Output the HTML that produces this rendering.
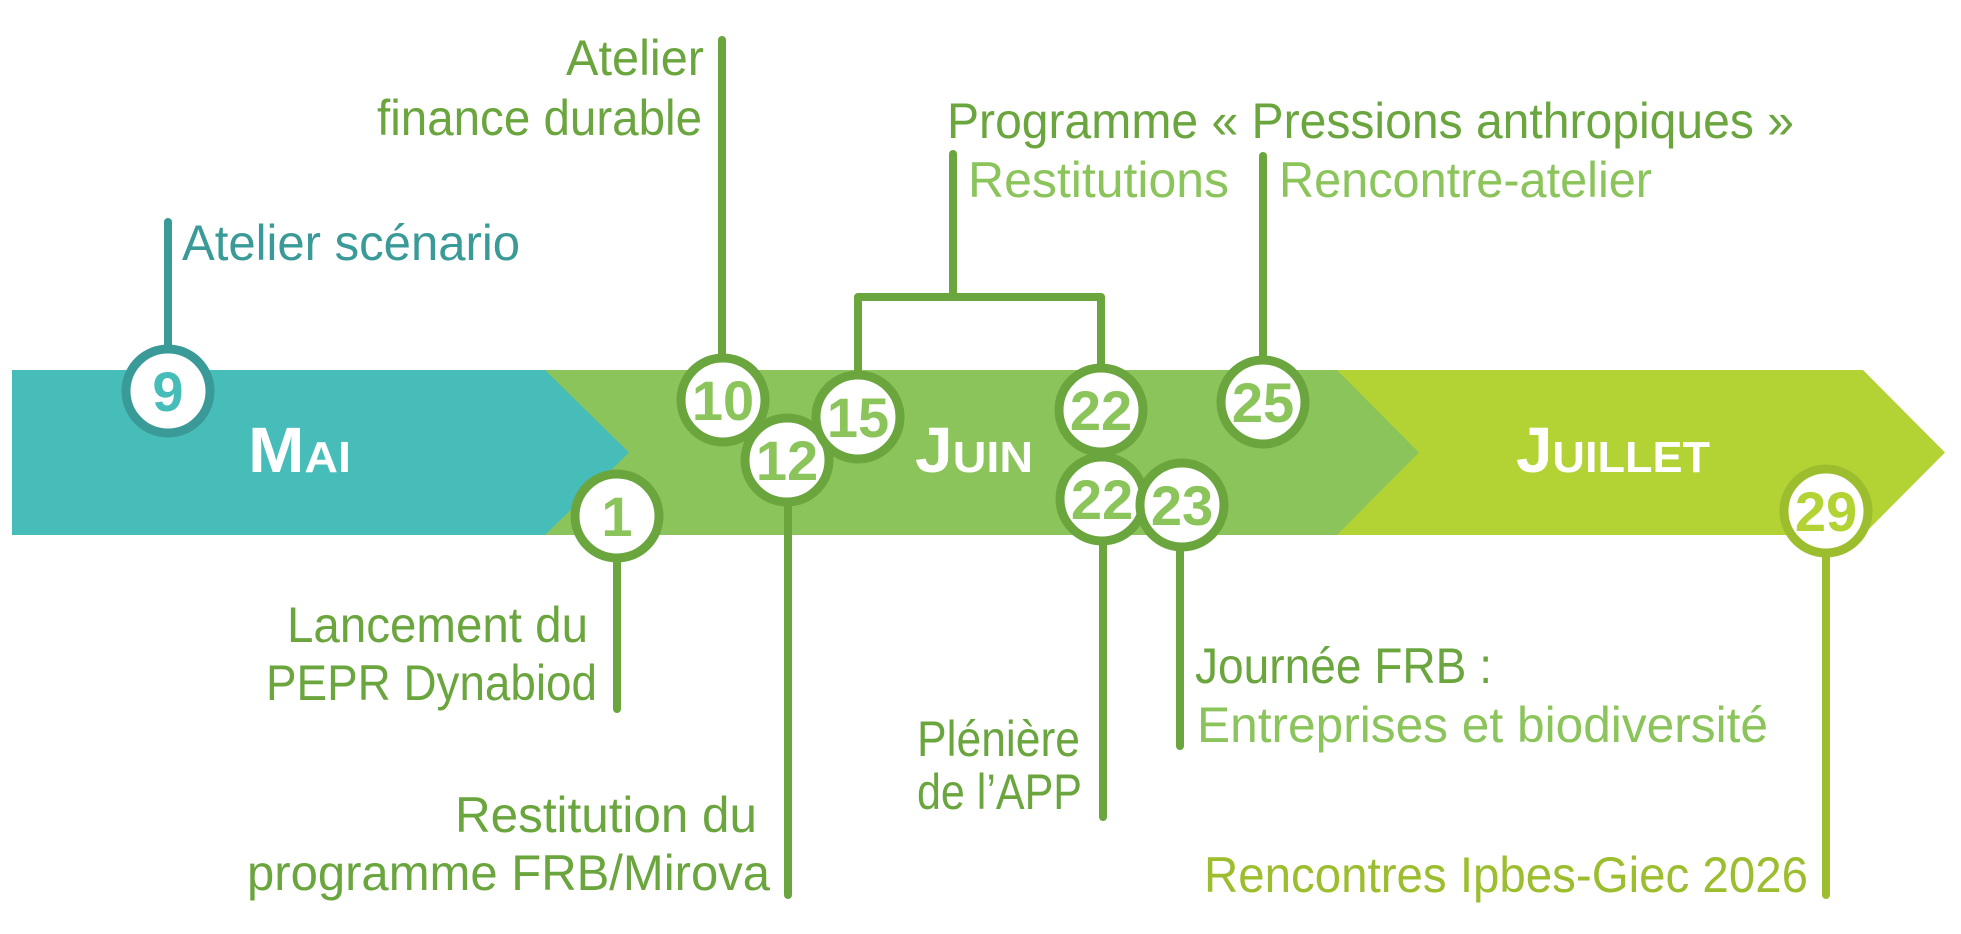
<!DOCTYPE html>
<html>
<head>
<meta charset="utf-8">
<style>
  html, body { margin: 0; padding: 0; background: #fff; }
  svg { display: block; }
  text { font-family: "Liberation Sans", "DejaVu Sans", sans-serif; }
</style>
</head>
<body>
<svg width="1961" height="934" viewBox="0 0 1961 934" xmlns="http://www.w3.org/2000/svg">
  <rect width="1961" height="934" fill="#ffffff"/>

  <!-- Bands -->
  <polygon points="1300,370 1863,370 1945,452.5 1863,535 1300,535" fill="#b3d335"/>
  <polygon points="540,370 1337,370 1419,452.5 1337,535 540,535" fill="#8bc45b"/>
  <polygon points="12,370 545,370 629,452.5 545,535 12,535" fill="#47bdba"/>

  <!-- Month labels -->
  <text x="248" y="472" font-weight="bold" fill="#ffffff" textLength="103" lengthAdjust="spacingAndGlyphs"><tspan font-size="64">M</tspan><tspan font-size="44">AI</tspan></text>
  <text x="915" y="472" font-weight="bold" fill="#ffffff" textLength="118" lengthAdjust="spacingAndGlyphs"><tspan font-size="64">J</tspan><tspan font-size="44">UIN</tspan></text>
  <text x="1516" y="472" font-weight="bold" fill="#ffffff" textLength="194" lengthAdjust="spacingAndGlyphs"><tspan font-size="64">J</tspan><tspan font-size="44">UILLET</tspan></text>

  <!-- Connector lines -->
  <g stroke-width="8" stroke-linecap="round" stroke-linejoin="round" fill="none">
    <line x1="168" y1="222" x2="168" y2="391" stroke="#3a9a97"/>
    <line x1="722" y1="40" x2="722" y2="400" stroke="#6aa53e"/>
    <line x1="617" y1="516" x2="617" y2="709" stroke="#6aa53e"/>
    <line x1="788" y1="460" x2="788" y2="895" stroke="#6aa53e"/>
    <path d="M858,417 V297 H1101 V410" stroke="#6aa53e"/>
    <line x1="953" y1="297" x2="953" y2="154" stroke="#6aa53e"/>
    <line x1="1263" y1="156" x2="1263" y2="402" stroke="#6aa53e"/>
    <line x1="1103" y1="499" x2="1103" y2="817" stroke="#6aa53e"/>
    <line x1="1180" y1="505" x2="1180" y2="746" stroke="#6aa53e"/>
    <line x1="1826" y1="511" x2="1826" y2="895" stroke="#9cbd2e"/>
  </g>

  <!-- Circles -->
  <g font-weight="bold" font-size="56" text-anchor="middle">
    <circle cx="168" cy="391" r="42" fill="#fff" stroke="#3a9a97" stroke-width="9"/>
    <text x="168" y="411" fill="#47bdba">9</text>

    <circle cx="617" cy="516" r="42" fill="#fff" stroke="#6aa53e" stroke-width="9"/>
    <text x="617" y="536" fill="#8bc45b">1</text>

    <circle cx="723" cy="400" r="42" fill="#fff" stroke="#6aa53e" stroke-width="9"/>
    <text x="723" y="420" fill="#8bc45b">10</text>

    <circle cx="787" cy="460" r="42" fill="#fff" stroke="#6aa53e" stroke-width="9"/>
    <text x="787" y="480" fill="#8bc45b">12</text>

    <circle cx="858" cy="417" r="42" fill="#fff" stroke="#6aa53e" stroke-width="9"/>
    <text x="858" y="437" fill="#8bc45b">15</text>

    <circle cx="1101" cy="410" r="42" fill="#fff" stroke="#6aa53e" stroke-width="9"/>
    <text x="1101" y="430" fill="#8bc45b">22</text>

    <circle cx="1102" cy="499" r="42" fill="#fff" stroke="#6aa53e" stroke-width="9"/>
    <text x="1102" y="519" fill="#8bc45b">22</text>

    <circle cx="1182" cy="505" r="42" fill="#fff" stroke="#6aa53e" stroke-width="9"/>
    <text x="1182" y="525" fill="#8bc45b">23</text>

    <circle cx="1263" cy="402" r="42" fill="#fff" stroke="#6aa53e" stroke-width="9"/>
    <text x="1263" y="422" fill="#8bc45b">25</text>

    <circle cx="1826" cy="511" r="42" fill="#fff" stroke="#9cbd2e" stroke-width="9"/>
    <text x="1826" y="531" fill="#b3d335">29</text>
  </g>

  <!-- Labels -->
  <g font-size="50">
    <text x="182" y="260" fill="#3a9a97" textLength="338" lengthAdjust="spacingAndGlyphs">Atelier scénario</text>

    <text x="566" y="75" fill="#6aa53e" textLength="138" lengthAdjust="spacingAndGlyphs">Atelier</text>
    <text x="377" y="135" fill="#6aa53e" textLength="325" lengthAdjust="spacingAndGlyphs">finance durable</text>

    <text x="947" y="138" fill="#6aa53e" textLength="847" lengthAdjust="spacingAndGlyphs">Programme « Pressions anthropiques »</text>
    <text x="968" y="197" fill="#8bc45b" textLength="261" lengthAdjust="spacingAndGlyphs">Restitutions</text>
    <text x="1279" y="197" fill="#8bc45b" textLength="373" lengthAdjust="spacingAndGlyphs">Rencontre-atelier</text>

    <text x="287" y="642" fill="#6aa53e" textLength="301" lengthAdjust="spacingAndGlyphs">Lancement du</text>
    <text x="266" y="700" fill="#6aa53e" textLength="331" lengthAdjust="spacingAndGlyphs">PEPR Dynabiod</text>

    <text x="455" y="832" fill="#6aa53e" textLength="302" lengthAdjust="spacingAndGlyphs">Restitution du</text>
    <text x="247" y="890" fill="#6aa53e" textLength="523" lengthAdjust="spacingAndGlyphs">programme FRB/Mirova</text>

    <text x="917" y="756" fill="#6aa53e" textLength="163" lengthAdjust="spacingAndGlyphs">Plénière</text>
    <text x="917" y="809" fill="#6aa53e" textLength="165" lengthAdjust="spacingAndGlyphs">de l’APP</text>

    <text x="1195" y="683" fill="#6aa53e" textLength="297" lengthAdjust="spacingAndGlyphs">Journée FRB :</text>
    <text x="1197" y="742" fill="#8bc45b" textLength="571" lengthAdjust="spacingAndGlyphs">Entreprises et biodiversité</text>

    <text x="1204" y="892" fill="#9cbd2e" textLength="604" lengthAdjust="spacingAndGlyphs">Rencontres Ipbes-Giec 2026</text>
  </g>
</svg>
</body>
</html>
